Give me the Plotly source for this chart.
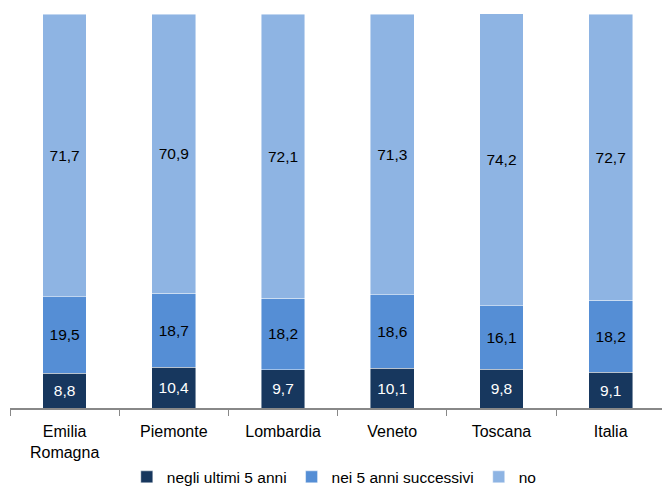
import plotly.graph_objects as go

regioni = ["Emilia<br>Romagna", "Piemonte", "Lombardia", "Veneto", "Toscana", "Italia"]
negli_ultimi_5 = [8.8, 10.4, 9.7, 10.1, 9.8, 9.1]
nei_5_successivi = [19.5, 18.7, 18.2, 18.6, 16.1, 18.2]
no = [71.7, 70.9, 72.1, 71.3, 74.2, 72.7]

serie = [
    ("negli ultimi 5 anni", negli_ultimi_5, "#17375E", "white"),
    ("nei 5 anni successivi", nei_5_successivi, "#558ED5", "black"),
    ("no", no, "#8EB4E3", "black"),
]

font = "Liberation Sans, Arial, sans-serif"

fig = go.Figure()
for nome, valori, colore, colore_testo in serie:
    fig.add_trace(go.Bar(
        name=nome,
        x=regioni,
        y=valori,
        marker=dict(color=colore, line=dict(color="rgba(255,255,255,0.6)", width=0.75)),
        texttemplate="%{y:.1f}",
        textposition="inside",
        insidetextanchor="middle",
        textangle=0,
        constraintext="none",
        textfont=dict(family=font, size=15.5, color=colore_testo),
        hoverinfo="skip",
    ))

fig.update_layout(
    barmode="stack",
    bargap=0.6,
    separators=",.",
    width=662,
    height=487,
    margin=dict(l=10, r=0, t=14, b=79, autoexpand=False),
    plot_bgcolor="white",
    paper_bgcolor="white",
    font=dict(family=font, size=15, color="black"),
    showlegend=True,
    legend=dict(
        orientation="h",
        xref="container", yref="container",
        x=0.505, xanchor="center",
        y=0.02, yanchor="middle",
        font=dict(family=font, size=15.5, color="black"),
        itemwidth=30,
        traceorder="normal",
    ),
    xaxis=dict(
        type="category",
        range=[-0.5, 5.47],
        automargin=False,
        showline=True,
        linecolor="#888888",
        linewidth=1.5,
        ticks="outside",
        tickson="boundaries",
        ticklen=6,
        tickcolor="#888888",
        tickwidth=1,
        ticklabelstandoff=8,
        tickfont=dict(family=font, size=16, color="black"),
        showgrid=False,
        zeroline=False,
    ),
    yaxis=dict(
        range=[0, 100],
        visible=False,
        automargin=False,
        showgrid=False,
        zeroline=False,
    ),
)

fig.write_html("out.html")
